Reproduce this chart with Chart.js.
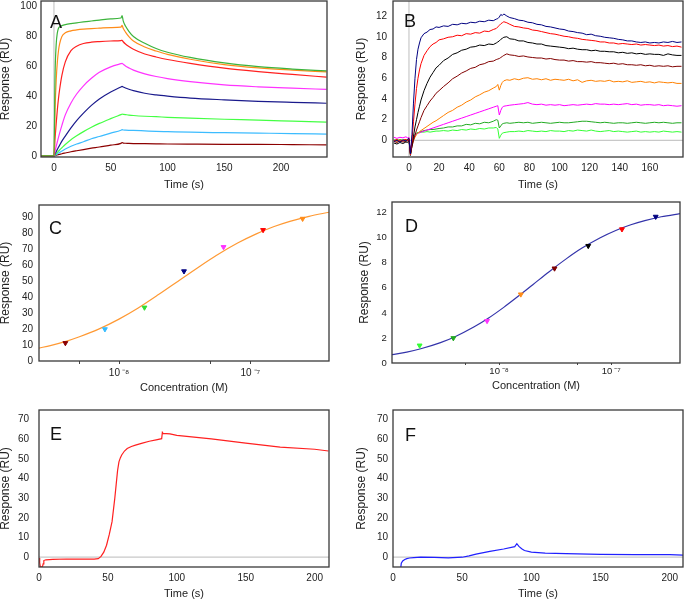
<!DOCTYPE html>
<html><head><meta charset="utf-8">
<script src="https://cdn.jsdelivr.net/npm/chart.js@4.4.0/dist/chart.umd.min.js"></script>
<style>
html,body{margin:0;padding:0;background:#fff;}
body{width:685px;height:601px;position:relative;overflow:hidden;}
.box{position:absolute;}
.box canvas{display:block;}
.lbl{position:absolute;font-family:'Liberation Sans',Arial,sans-serif;font-size:18px;line-height:18px;color:#111;}
</style></head><body>
<div class="box" style="left:0px;top:0px"><canvas id="cA" width="337" height="195"></canvas></div>
<div class="box" style="left:355px;top:0px"><canvas id="cB" width="330" height="195"></canvas></div>
<div class="box" style="left:0px;top:200px"><canvas id="cC" width="339" height="195"></canvas></div>
<div class="box" style="left:359px;top:197px"><canvas id="cD" width="326" height="196"></canvas></div>
<div class="box" style="left:0px;top:406px"><canvas id="cE" width="339" height="195"></canvas></div>
<div class="box" style="left:355px;top:406px"><canvas id="cF" width="330" height="195"></canvas></div>
<div class="lbl" style="left:50px;top:12.5px">A</div>
<div class="lbl" style="left:404px;top:11.5px">B</div>
<div class="lbl" style="left:49px;top:218.5px">C</div>
<div class="lbl" style="left:405px;top:217px">D</div>
<div class="lbl" style="left:50px;top:425px">E</div>
<div class="lbl" style="left:405px;top:426px">F</div>
<script>
// ---------- Panel A : sensorgrams ----------
const timeA = [-11,-5,0,1,2,3,4,5,7,10,15,20,26,33,40,50,59,60,61,63,66,70,80,90,100,120,150,180,210,240];
const greenA   = [0,0,0,55,75,82.5,85.5,86.5,87.3,88,88.7,89.2,89.8,90.4,91,91.8,92.4,94,90.5,87,83.5,80,75.5,72,69.5,66,62.3,59.8,58.2,57];
const orangeA  = [0,0,0,31,51,63,70.5,75,80,82.5,83.8,84.4,84.9,85.3,85.6,86,86.3,87.5,85.5,83,80,77,73,70.3,68,64.8,61.2,59,57.5,56.3];
const redA     = [0,0,0,12,22,31,38.5,44.5,54,63,70.5,73.5,75.3,76.2,76.6,77,77.3,77.5,76.5,75,73.3,71.5,68.3,66.3,64.6,62,58.8,56.5,54.6,52.8];
const magentaA = [0,0,0,3.3,6.5,9.5,12.5,15.3,20.5,27.5,35.5,41.5,47,52,56,59.7,61.8,62,61.5,60.3,59,57.5,55,53.2,51.8,49.8,47.6,46.3,45.4,44.6];
const navyA    = [0,0,0,1.5,2.9,4.4,5.8,7.2,9.9,13.3,18.8,23.7,28.7,33.9,38.2,42.9,46.2,46.6,46.2,45.5,44.7,43.8,42,40.9,40.1,38.8,37.6,36.6,35.9,35.3];
const limeA    = [0,0,0,0.8,1.6,2.4,3.2,4,5.5,7.7,10.9,13.5,16.3,19.2,21.8,25,27.7,28,27.9,27.7,27.4,27.1,26.6,26.3,25.9,25.3,24.6,24,23.3,22.6];
const blueA    = [0,0,0,0.5,1,1.4,1.9,2.4,3.3,4.6,6.5,8,9.5,11.5,13,15.3,17.2,17.6,17.4,17.3,17.2,17.1,16.8,16.5,16.3,15.9,15.6,15.3,15,14.6];
const maroonA  = [0,0,0,0.2,0.5,0.7,0.9,1.1,1.5,2,2.8,3.5,4.3,5.2,6,7.3,8.4,9,8.6,8.5,8.4,8.3,8.2,8.1,8,7.9,7.8,7.8,7.6,7.4];
const xTicksA = [0,50,100,150,200];
const yTicksA = [0,20,40,60,80,100];

// ---------- Panel B : sensorgrams ----------
const timeB = [-10,-8,-6,-4,-2,-1,0,1,2,3,4,5,6,7,8,10,12,14,16,18,20,23,26,29,32,35,38,41,44,47,50,53,56,58,59,60,61,62,63,65,67,70,73,76,79,82,85,88,91,94,97,100,103,106,109,112,115,118,121,124,127,130,133,136,139,142,145,148,151,154,157,160,163,166,169,172,175,178,181];
const navyB = [-0.1,0.0,-0.15,0.05,-0.05,0.1,0.2,-1.3,0.6,3.6,6.0,7.8,8.8,9.4,9.9,10.3,10.45,10.7,10.75,10.95,10.9,11.05,11.0,11.2,11.15,11.3,11.25,11.4,11.35,11.5,11.45,11.6,11.55,11.7,11.75,11.9,12.15,12.05,12.2,12.0,11.85,11.75,11.6,11.55,11.4,11.35,11.2,11.15,11.0,10.95,10.85,10.75,10.7,10.55,10.5,10.4,10.35,10.2,10.25,10.1,10.05,9.95,9.9,9.85,9.75,9.7,9.6,9.6,9.5,9.45,9.5,9.4,9.45,9.4,9.5,9.45,9.55,9.45,9.5];
const redB = [-0.05,0.1,-0.1,0.0,0.1,-0.05,0.15,-1.4,-0.1,1.8,3.5,5.0,6.0,6.8,7.4,8.2,8.65,9.05,9.3,9.45,9.7,9.8,9.95,10.0,10.15,10.1,10.3,10.25,10.4,10.35,10.55,10.5,10.7,10.8,10.95,11.1,11.25,11.35,11.45,11.35,11.2,11.0,10.95,10.85,10.8,10.65,10.6,10.5,10.4,10.3,10.25,10.15,10.05,10.0,9.9,9.85,9.75,9.7,9.65,9.6,9.5,9.5,9.4,9.4,9.3,9.35,9.3,9.25,9.3,9.2,9.25,9.2,9.15,9.2,9.1,9.15,9.05,9.1,9.0];
const blackB = [-0.25,-0.35,-0.2,-0.3,-0.15,-0.2,0.0,-1.45,-0.5,0.4,1.3,2.0,2.7,3.3,3.9,4.8,5.5,6.1,6.55,7.0,7.25,7.7,7.95,8.3,8.45,8.7,8.8,9.0,9.05,9.2,9.15,9.3,9.25,9.4,9.5,9.6,9.75,9.85,9.95,10.0,9.8,9.75,9.6,9.6,9.45,9.4,9.3,9.3,9.15,9.1,9.05,9.0,8.95,8.85,8.9,8.8,8.75,8.75,8.65,8.7,8.6,8.6,8.55,8.55,8.45,8.5,8.4,8.45,8.35,8.4,8.3,8.35,8.3,8.3,8.2,8.35,8.25,8.2,8.2];
const maroonB = [-0.1,-0.2,-0.05,-0.15,-0.1,0.0,0.1,-1.3,-0.6,0.0,0.5,1.0,1.4,1.8,2.2,2.9,3.35,3.8,4.15,4.55,4.8,5.2,5.55,5.95,6.2,6.5,6.7,6.95,7.05,7.3,7.4,7.6,7.65,7.8,7.85,7.9,8.0,8.1,8.2,8.35,8.25,8.2,8.1,8.15,8.05,8.0,7.95,7.95,7.85,7.9,7.8,7.75,7.75,7.65,7.7,7.6,7.6,7.55,7.6,7.5,7.5,7.45,7.4,7.45,7.35,7.4,7.3,7.3,7.25,7.3,7.2,7.25,7.15,7.2,7.15,7.2,7.1,7.15,7.15];
const orangeB = [0.0,-0.1,0.05,-0.05,0.1,0.0,0.2,-1.3,-0.5,0.0,0.3,0.55,0.7,0.85,0.95,1.15,1.35,1.55,1.75,1.9,2.1,2.4,2.7,2.9,3.2,3.4,3.7,3.9,4.2,4.4,4.65,4.8,5.05,5.2,5.4,4.85,5.3,5.6,5.75,5.85,5.8,5.95,5.85,6.0,6.05,5.9,5.95,5.85,5.95,5.8,5.9,5.85,5.8,5.9,5.75,5.85,5.6,5.75,5.8,5.7,5.75,5.7,5.8,5.65,5.7,5.65,5.75,5.6,5.65,5.7,5.6,5.65,5.55,5.65,5.6,5.55,5.6,5.5,5.5];
const magentaB = [0.3,0.2,0.3,0.25,0.35,0.25,0.3,-1.2,-0.2,0.3,0.5,0.6,0.7,0.75,0.8,0.9,1.0,1.1,1.2,1.3,1.4,1.55,1.7,1.85,2.0,2.15,2.3,2.45,2.6,2.75,2.9,3.05,3.2,3.3,3.35,2.45,2.9,3.2,3.3,3.35,3.4,3.45,3.5,3.55,3.65,3.5,3.45,3.5,3.4,3.45,3.4,3.45,3.35,3.4,3.45,3.4,3.45,3.5,3.45,3.55,3.5,3.5,3.45,3.5,3.45,3.5,3.55,3.45,3.5,3.4,3.45,3.45,3.4,3.45,3.35,3.4,3.35,3.3,3.35];
const dkgreenB = [0.05,-0.05,0.1,0.0,0.05,-0.05,0.1,-1.3,-0.3,0.3,0.5,0.65,0.75,0.8,0.85,0.95,1.0,1.05,1.05,1.1,1.15,1.2,1.3,1.3,1.4,1.4,1.55,1.5,1.65,1.6,1.75,1.7,1.85,2.0,1.95,1.2,1.4,1.6,1.65,1.7,1.65,1.7,1.75,1.7,1.75,1.65,1.7,1.75,1.7,1.65,1.7,1.75,1.7,1.7,1.75,1.8,1.85,1.85,1.8,1.75,1.7,1.75,1.7,1.65,1.7,1.7,1.65,1.7,1.75,1.7,1.65,1.7,1.75,1.7,1.75,1.7,1.65,1.7,1.7];
const limeB = [0.0,0.1,-0.05,0.05,0.0,0.1,0.15,-1.35,-0.3,0.4,0.6,0.7,0.75,0.75,0.8,0.8,0.85,0.8,0.85,0.9,0.9,0.95,0.9,1.0,0.95,1.05,1.0,1.1,1.05,1.15,1.1,1.2,1.2,1.25,1.1,0.2,0.5,0.7,0.75,0.8,0.85,0.85,0.9,0.85,0.95,0.9,0.85,0.9,0.85,0.95,0.9,0.9,0.85,0.95,0.9,1.0,0.95,0.9,1.0,0.9,0.85,0.9,0.95,0.85,0.9,0.85,0.8,0.85,0.9,0.8,0.85,0.8,0.85,0.8,0.9,0.85,0.8,0.85,0.8];
const xTicksB = [0,20,40,60,80,100,120,140,160];
const yTicksB = [0,2,4,6,8,10,12];

// ---------- Panel C : steady-state fit ----------
const concC = [3.906e-9,7.8125e-9,1.5625e-8,3.125e-8,6.25e-8,1.25e-7,2.5e-7];
const respC = [11.3,20.0,33.6,56.4,71.6,82.3,89.4];
const pointColorsC = ['#8b0000','#33bbff','#33dd33','#000080','#ff33ff','#ff0000','#ff8c1a'];
const fitConcC = [2.46e-9,3e-9,4e-9,5e-9,7e-9,1e-8,1.4e-8,2e-8,2.8e-8,4e-8,5.5e-8,8e-8,1.1e-7,1.5e-7,2e-7,2.8e-7,4e-7];
const fitRespC = [8.1,9.7,12.5,15.2,20.0,26.3,33.3,41.7,50.0,58.8,66.3,74.1,79.7,84.3,87.7,90.9,93.5];
const xTicksC = [5e-9,1e-8,5e-8,1e-7];
const xLabelsC = ['','10\u2009\u207b\u2078','','10\u2009\u207b\u2077'];
const yTicksC = [0,10,20,30,40,50,60,70,80,90];

// ---------- Panel D : steady-state fit ----------
const concD = [1.953e-9,3.906e-9,7.8125e-9,1.5625e-8,3.125e-8,6.25e-8,1.25e-7,2.5e-7];
const respD = [1.40,1.99,3.36,5.48,7.55,9.35,10.68,11.68];
const pointColorsD = ['#33ff33','#22aa22','#ff33ff','#ff8c1a','#800000','#000000','#ff0000','#000080'];
const fitConcD = [1.107e-9,1.5e-9,2e-9,3e-9,4e-9,6e-9,8e-9,1.1e-8,1.5e-8,2e-8,2.8e-8,4e-8,5.5e-8,8e-8,1.1e-7,1.5e-7,2e-7,2.8e-7,4.2e-7];
const fitRespD = [0.66,0.87,1.14,1.63,2.08,2.89,3.57,4.44,5.36,6.25,7.29,8.33,9.17,10.0,10.58,11.03,11.36,11.67,11.93];
const xTicksD = [5e-9,1e-8,5e-8,1e-7];
const xLabelsD = ['','10\u2009\u207b\u2078','','10\u2009\u207b\u2077'];
const yTicksD = [0,2,4,6,8,10,12];

// ---------- Panel E / F : single sensorgrams ----------
const timeE = [0,0.5,1,2.5,3,3.5,5,10,20,30,40,43,45,47,49,51,53,55,56,57,58,59,60,62,64,67,70,75,80,85,89,89.5,90,95,100,125,150,175,200,210];
const respE = [-0.5,-3,-5,-5,-3.5,-1.8,-1.4,-1.2,-1.0,-1.1,-1.1,-0.8,0.3,2.5,6,11.5,18,30,37,44,48.5,50.5,52,54,55.3,56.3,57,58,59,59.7,60.3,63.5,63,62.7,62,60.2,58,56,54.9,54];
const timeF = [5.5,6,7,8.5,10,12,15,20,30,40,50,55,60,70,80,88,89.5,91,93,95,100,110,125,150,175,200,210];
const respF = [-6,-3.2,-2,-1.3,-0.8,-0.5,-0.3,-0.1,-0.2,-0.4,-0.1,0.6,1.5,2.9,4.1,5.3,6.8,5.4,4.2,3.3,2.5,2.0,1.7,1.4,1.2,1.2,1.0];
const xTicksEF = [0,50,100,150,200];
const yTicksEF = [0,10,20,30,40,50,60,70];

// ---------- helpers ----------
Chart.defaults.font.family = "'Liberation Sans', Arial, sans-serif";
Chart.defaults.color = '#222';

const framePlugin = {
  id: 'frame',
  afterDatasetsDraw(chart) {
    const {ctx, chartArea: a} = chart;
    ctx.save();
    ctx.strokeStyle = '#3a3a3a';
    ctx.lineWidth = 1.3;
    ctx.strokeRect(a.left, a.top, a.right - a.left, a.bottom - a.top);
    ctx.restore();
  }
};

function series(xs, ys, color, w) {
  return {data: xs.map((x, i) => ({x: x, y: ys[i]})), borderColor: color, borderWidth: w || 1.2,
    showLine: true, pointRadius: 0, fill: false, tension: 0, order: 1};
}
function smooth(xs, ys, color, w) {
  const d = series(xs, ys, color, w);
  d.cubicInterpolationMode = 'monotone';
  return d;
}
function refLine(pts) {
  return {data: pts, borderColor: '#c8c8c8', borderWidth: 1.2, showLine: true, pointRadius: 0, order: 100};
}
function markers(xs, ys, colors) {
  return {data: xs.map((x, i) => ({x: x, y: ys[i]})), showLine: false, pointStyle: 'triangle', rotation: 180,
    pointRadius: 2.8, backgroundColor: colors, borderColor: colors, borderWidth: 1, order: 0};
}

function makeChart(id, c) {
  new Chart(document.getElementById(id), {
    type: 'scatter',
    data: {datasets: c.datasets},
    options: {
      responsive: false, animation: false, events: [],
      layout: {padding: {top: c.padTop, right: c.padRight, left: 0, bottom: 0}},
      plugins: {legend: {display: false}, tooltip: {enabled: false}},
      scales: {
        x: {
          type: c.xType || 'linear', min: c.xMin, max: c.xMax,
          afterBuildTicks: s => { s.ticks = c.xTicks.map(v => ({value: v})); },
          ticks: {callback: (v, i) => c.xLabels ? c.xLabels[i] : String(c.xTicks[i]), autoSkip: false, maxRotation: 0,
                  padding: c.xTickPad, font: {size: c.xTickFont}, color: '#222'},
          grid: {display: !!c.xTickLen, drawOnChartArea: false, drawTicks: !!c.xTickLen, tickLength: c.xTickLen || 0, tickColor: '#444'},
          border: {display: false},
          title: {display: true, text: c.xTitle, font: {size: c.xTitleFont, lineHeight: 1.2}, color: '#222', padding: {top: 0, bottom: c.xTitlePad}},
          afterFit: s => { s.height = c.xH; s.paddingLeft = 0; s.paddingRight = 0; }
        },
        y: {
          type: 'linear', min: c.yMin, max: c.yMax,
          afterBuildTicks: s => { s.ticks = c.yTicks.map(v => ({value: v})); },
          ticks: {callback: (v, i) => String(c.yTicks[i]), autoSkip: false, padding: c.yTickPad, font: {size: c.yTickFont}, color: '#222'},
          grid: {display: false, drawTicks: false},
          border: {display: false},
          title: {display: true, text: 'Response (RU)', font: {size: 12, lineHeight: 1}, color: '#222', padding: {top: c.yTitlePad, bottom: 0}},
          afterFit: s => { s.width = c.yW; s.paddingTop = 0; s.paddingBottom = 0; }
        }
      }
    },
    plugins: [framePlugin]
  });
}

// ---------- build charts ----------
makeChart('cA', {
  datasets: [
    smooth(timeA, greenA, '#3cb43c'), smooth(timeA, orangeA, '#ff8c1a'), smooth(timeA, redA, '#ff2020'),
    smooth(timeA, magentaA, '#ff33ff'), smooth(timeA, navyA, '#1a1a8c'), smooth(timeA, limeA, '#44ff44'),
    smooth(timeA, blueA, '#3cbcff'), smooth(timeA, maroonA, '#8c0000'),
    refLine([{x: 0, y: -1}, {x: 0, y: 104}])
  ],
  xMin: -11.4, xMax: 240.5, yMin: -0.7, yMax: 103.8, xTicks: xTicksA, yTicks: yTicksA,
  yW: 41, xH: 38, padTop: 1, padRight: 10, xTickPad: 5.6, yTickPad: 4, xTickFont: 10, yTickFont: 10,
  xTitle: 'Time (s)', xTitleFont: 11, xTitlePad: 3, yTitlePad: 0
});

makeChart('cB', {
  datasets: [
    series(timeB, navyB, '#000080', 1), series(timeB, redB, '#ff0000', 1), series(timeB, blackB, '#000000', 1),
    series(timeB, maroonB, '#800000', 1), series(timeB, orangeB, '#ff8000', 1), series(timeB, magentaB, '#ff00ff', 1),
    series(timeB, dkgreenB, '#22aa22', 1), series(timeB, limeB, '#33ff33', 1),
    refLine([{x: 0, y: -2}, {x: 0, y: 14}]), refLine([{x: -11, y: 0}, {x: 182, y: 0}])
  ],
  xMin: -10.6, xMax: 182, yMin: -1.6, yMax: 13.45, xTicks: xTicksB, yTicks: yTicksB,
  yW: 38, xH: 38, padTop: 1, padRight: 2, xTickPad: 5.6, yTickPad: 6, xTickFont: 10, yTickFont: 10,
  xTitle: 'Time (s)', xTitleFont: 11, xTitlePad: 3, yTitlePad: 0.7
});

makeChart('cC', {
  datasets: [markers(concC, respC, pointColorsC), smooth(fitConcC, fitRespC, '#ff9933', 1.2)],
  xType: 'logarithmic', xMin: 2.46e-9, xMax: 3.97e-7, yMin: 0, yMax: 98,
  xTicks: xTicksC, xLabels: xLabelsC, yTicks: yTicksC,
  yW: 39, xH: 34, padTop: 4, padRight: 10, xTickPad: 3.5, xTickLen: 3, yTickPad: 6, xTickFont: 10, yTickFont: 10,
  xTitle: 'Concentration (M)', xTitleFont: 11, xTitlePad: 0, yTitlePad: 0
});

makeChart('cD', {
  datasets: [markers(concD, respD, pointColorsD), smooth(fitConcD, fitRespD, '#3333aa', 1.2)],
  xType: 'logarithmic', xMin: 1.107e-9, xMax: 4.12e-7, yMin: 0, yMax: 12.85,
  xTicks: xTicksD, xLabels: xLabelsD, yTicks: yTicksD,
  yW: 33, xH: 30, padTop: 4, padRight: 2, xTickPad: 1, xTickLen: 2, yTickPad: 5.3, xTickFont: 9.5, yTickFont: 9.5,
  xTitle: 'Concentration (M)', xTitleFont: 11, xTitlePad: 0, yTitlePad: 0
});

makeChart('cE', {
  datasets: [series(timeE, respE, '#ff2020', 1.2), refLine([{x: 0, y: 0}, {x: 211, y: 0}])],
  xMin: 0, xMax: 210.4, yMin: -5.08, yMax: 74.9, xTicks: xTicksEF, yTicks: yTicksEF,
  yW: 39, xH: 34, padTop: 4, padRight: 10, xTickPad: 5.6, yTickPad: 10, xTickFont: 10, yTickFont: 10,
  xTitle: 'Time (s)', xTitleFont: 11, xTitlePad: 0, yTitlePad: 0
});

makeChart('cF', {
  datasets: [series(timeF, respF, '#2020ff', 1.2), refLine([{x: 0, y: 0}, {x: 211, y: 0}])],
  xMin: 0, xMax: 209.6, yMin: -5.08, yMax: 74.9, xTicks: xTicksEF, yTicks: yTicksEF,
  yW: 38, xH: 34, padTop: 4, padRight: 2, xTickPad: 5.6, yTickPad: 5, xTickFont: 10, yTickFont: 10,
  xTitle: 'Time (s)', xTitleFont: 11, xTitlePad: 0, yTitlePad: 0.7
});
</script>
</body></html>
